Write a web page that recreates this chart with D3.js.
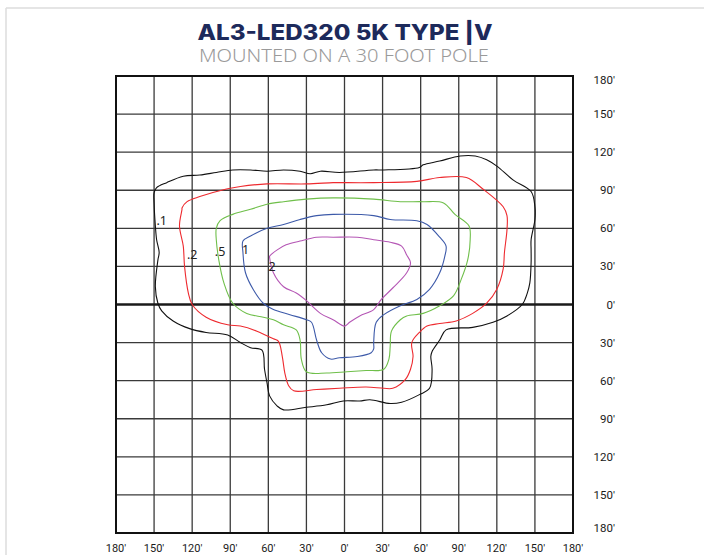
<!DOCTYPE html>
<html>
<head>
<meta charset="utf-8">
<script src="https://cdn.jsdelivr.net/npm/d3@7"></script>
<style>
  html, body { margin: 0; padding: 0; background: #fff; }
  svg { display: block; }
</style>
</head>
<body>
<svg id="chart" width="704" height="555"></svg>
<script>
// ---- data (feet) ----
const titleText = "AL3-LED320 5K TYPE |V";
const subtitleText = "MOUNTED ON A 30 FOOT POLE";
const gridTicks = [-180, -150, -120, -90, -60, -30, 0, 30, 60, 90, 120, 150, 180];
const tickLabels = ["180′", "150′", "120′", "90′", "60′", "30′", "0′", "30′", "60′", "90′", "120′", "150′", "180′"];

const contour01 = [[-150,88],[-148,92],[-140,96],[-127,101],[-114,102],[-101,104],[-88,106],[-74,106],[-61,105],[-48,106],[-35,105],[-27,103],[-19,105],[-4,104],[23,106],[31,106],[59,108],[62,110],[75,113],[91,117],[103,117],[112,114],[120,109],[133,98],[147,89],[150,77],[150,67],[147,51],[147,43],[147,33],[146,17],[144,9],[140,0],[128,-9],[117,-14],[101,-18],[80,-20],[75,-28],[69,-37],[68,-41],[69,-51],[67,-66],[59,-71],[45,-77],[36,-78],[20,-75],[12,-76],[-1,-76],[-14,-79],[-30,-81],[-48,-83],[-53,-80],[-59,-72],[-61,-62],[-63,-51],[-65,-36],[-74,-34],[-82,-30],[-92,-24],[-109,-22],[-122,-19],[-135,-13],[-144,-5],[-147,1],[-149,14],[-147,35],[-146,41],[-148,51],[-149,62],[-150,80]];
const contour02 = [[-128,76],[-124,81],[-114,85],[-93,91],[-82,93],[-61,95],[-30,95],[-9,96],[-4,96],[23,96],[57,97],[75,100],[96,100],[109,91],[125,77],[128,70],[128,59],[126,41],[125,28],[120,12],[112,1],[101,-7],[88,-13],[75,-15],[65,-17],[59,-22],[53,-30],[54,-41],[52,-51],[48,-59],[38,-66],[31,-66],[17,-65],[-4,-66],[-22,-67],[-40,-68],[-44,-64],[-47,-54],[-49,-41],[-52,-29],[-56,-27],[-69,-21],[-82,-17],[-92,-16],[-109,-10],[-120,0],[-123,9],[-126,30],[-127,46],[-130,62],[-128,75]];
const contour05 = [[-101,60],[-98,66],[-88,71],[-74,75],[-61,79],[-48,81],[-30,83],[-9,84],[23,83],[44,81],[62,81],[78,80],[87,71],[98,62],[99,51],[97,35],[92,20],[86,7],[75,-1],[62,-7],[49,-9],[44,-12],[37,-21],[36,-33],[35,-43],[31,-51],[17,-52],[2,-53],[-14,-54],[-30,-53],[-34,-43],[-35,-28],[-38,-20],[-48,-16],[-56,-12],[-64,-10],[-77,-7],[-88,1],[-95,17],[-99,35],[-101,51]];
const contour1 = [[-80,50],[-74,54],[-61,60],[-48,63],[-35,67],[-22,70],[-9,71],[23,70],[36,67],[57,66],[65,63],[75,53],[80,46],[79,38],[75,25],[67,12],[57,4],[44,-1],[31,-8],[25,-14],[23,-30],[23,-35],[21,-38],[10,-41],[-4,-42],[-11,-43],[-18,-38],[-22,-28],[-26,-14],[-30,-12],[-43,-8],[-56,-4],[-64,1],[-72,12],[-78,25],[-80,41]];
const contour2 = [[-59,38],[-53,43],[-46,47],[-35,50],[-22,53],[-9,53],[10,53],[23,51],[36,49],[45,46],[49,39],[52,33],[49,25],[38,13],[29,4],[23,-4],[12,-9],[4,-14],[0,-17],[-9,-12],[-19,-7],[-30,3],[-38,9],[-48,14],[-56,25],[-59,37]];

const contourSeries = [
  { name: ".1", points: contour01, color: "#111111" },
  { name: ".2", points: contour02, color: "#ee2a2f" },
  { name: ".5", points: contour05, color: "#6fbf4a" },
  { name: "1",  points: contour1,  color: "#3d5aa9" },
  { name: "2",  points: contour2,  color: "#b557b5" }
];
const contourLabels = [
  { text: ".1", x: -144, y: 66 },
  { text: ".2", x: -120, y: 39 },
  { text: ".5", x: -98,  y: 42 },
  { text: "1",  x: -78,  y: 43 },
  { text: "2",  x: -57,  y: 30 }
];
const poleMark = [0, 3];

// ---- drawing ----
const svg = d3.select("#chart");
const W = 704, H = 555;

// page frame
svg.append("line").attr("x1", 6).attr("y1", 8).attr("x2", W).attr("y2", 8)
  .attr("stroke", "#dcdcdc").attr("stroke-width", 1.5);
svg.append("line").attr("x1", 6).attr("y1", 8).attr("x2", 6).attr("y2", H)
  .attr("stroke", "#dcdcdc").attr("stroke-width", 1.5);

// titles
svg.append("text").attr("x", 345).attr("y", 40).attr("text-anchor", "middle")
  .attr("font-family", "Inter, 'Noto Sans', sans-serif").attr("font-weight", 800)
  .attr("font-size", 21).attr("fill", "#1d2a5b")
  .attr("textLength", 295).attr("lengthAdjust", "spacingAndGlyphs")
  .text(titleText);
svg.append("text").attr("x", 344).attr("y", 62).attr("text-anchor", "middle")
  .attr("font-family", "'Noto Sans', 'Open Sans', sans-serif").attr("font-weight", 300)
  .attr("font-size", 17.5).attr("fill", "#9a9a9a")
  .attr("textLength", 290).attr("lengthAdjust", "spacingAndGlyphs")
  .text(subtitleText);

const x = d3.scaleLinear().domain([-180, 180]).range([116, 573]);
const y = d3.scaleLinear().domain([180, -180]).range([76, 533]);

const g = svg.append("g");

// grid lines
g.selectAll("line.v").data(gridTicks).join("line").attr("class", "v")
  .attr("x1", d => x(d)).attr("x2", d => x(d))
  .attr("y1", y(180)).attr("y2", y(-180))
  .attr("stroke", "#3a3a3a").attr("stroke-width", 1.3);
g.selectAll("line.h").data(gridTicks).join("line").attr("class", "h")
  .attr("y1", d => y(d)).attr("y2", d => y(d))
  .attr("x1", x(-180)).attr("x2", x(180))
  .attr("stroke", d => d === 0 ? "#1a1a1a" : "#3a3a3a")
  .attr("stroke-width", d => d === 0 ? 2.6 : 1.3);

// border
g.append("rect").attr("x", x(-180)).attr("y", y(180))
  .attr("width", x(180) - x(-180)).attr("height", y(-180) - y(180))
  .attr("fill", "none").attr("stroke", "#111").attr("stroke-width", 2);

// contours
const line = d3.line().x(d => x(d[0])).y(d => y(d[1])).curve(d3.curveCatmullRomClosed.alpha(0.5));
g.selectAll("path.contour").data(contourSeries).join("path").attr("class", "contour")
  .attr("d", d => line(d.points))
  .attr("fill", "none").attr("stroke", d => d.color).attr("stroke-width", 1.1)
  .attr("stroke-linejoin", "round");

// pole mark
g.append("circle").attr("cx", x(poleMark[0])).attr("cy", y(poleMark[1])).attr("r", 1)
  .attr("fill", "#555");

// contour labels
g.selectAll("text.clab").data(contourLabels).join("text").attr("class", "clab")
  .attr("x", d => x(d.x)).attr("y", d => y(d.y)).attr("dy", "0.35em")
  .attr("text-anchor", "middle")
  .attr("font-family", "'Noto Sans', sans-serif").attr("font-size", 12.5)
  .attr("fill", "#222").text(d => d.text);

// bottom axis labels
g.selectAll("text.bl").data(gridTicks).join("text").attr("class", "bl")
  .attr("x", d => x(d)).attr("y", 552).attr("text-anchor", "middle")
  .attr("font-family", "Roboto, 'Noto Sans', sans-serif").attr("font-size", 11)
  .attr("fill", "#1a1a1a").text((d, i) => tickLabels[i]);

// right axis labels
g.selectAll("text.rl").data(gridTicks).join("text").attr("class", "rl")
  .attr("x", 615).attr("y", d => Math.min(528, Math.max(80, y(-d))))
  .attr("dy", "0.35em").attr("text-anchor", "end")
  .attr("font-family", "Roboto, 'Noto Sans', sans-serif").attr("font-size", 11.5)
  .attr("fill", "#1a1a1a").text((d, i) => tickLabels[i]);
</script>
</body>
</html>
